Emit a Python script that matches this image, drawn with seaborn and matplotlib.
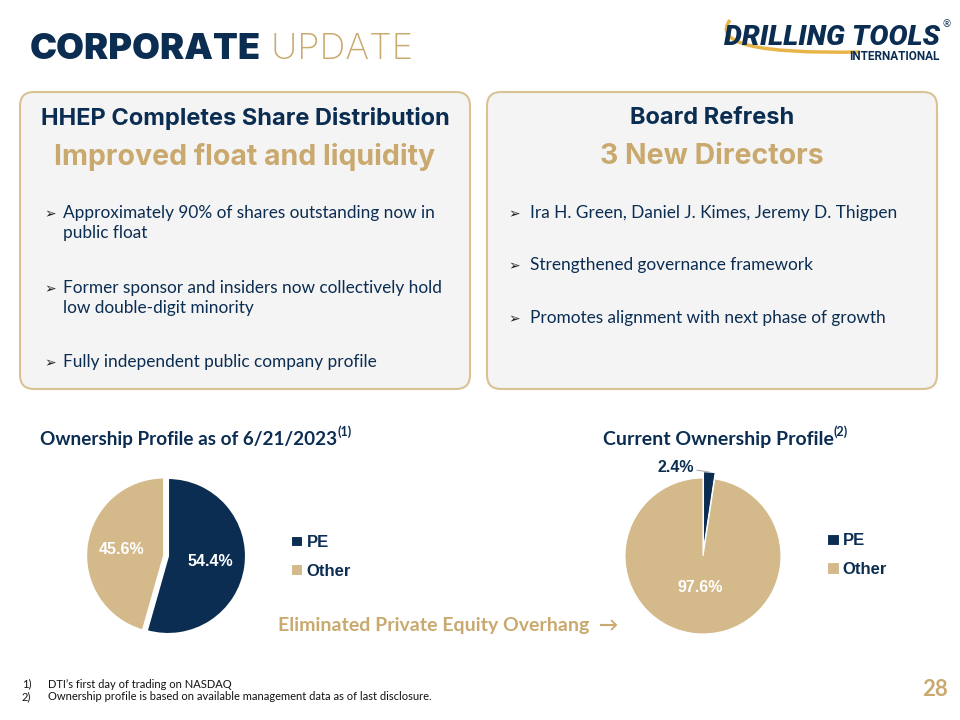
import matplotlib
matplotlib.use("Agg")
import matplotlib.pyplot as plt
import seaborn as sns
import numpy as np
from matplotlib.patches import FancyBboxPatch, PathPatch
from matplotlib.path import Path as MPath

# ---- data ----
owner_labels = ["PE", "Other"]
ownership_ipo = [54.4, 45.6]        # 6/21/2023
ownership_current = [2.4, 97.6]

left_title = "HHEP Completes Share Distribution"
left_sub = "Improved float and liquidity"
left_bullets = [
    "Approximately 90% of shares outstanding now in\npublic float",
    "Former sponsor and insiders now collectively hold\nlow double-digit minority",
    "Fully independent public company profile",
]
right_title = "Board Refresh"
right_sub = "3 New Directors"
right_bullets = [
    "Ira H. Green, Daniel J. Kimes, Jeremy D. Thigpen",
    "Strengthened governance framework",
    "Promotes alignment with next phase of growth",
]
footnotes = [
    ("1)", "DTI\u2019s first day of trading on NASDAQ"),
    ("2)", "Ownership profile is based on available management data as of last disclosure."),
]

NAVY = "#0b2d52"
TAN = "#d4b98a"
GOLD = "#c9a96e"
BOX_FILL = "#f4f4f4"
BOX_EDGE = "#d9c294"

sns.set_theme(style="white")
plt.rcParams["font.family"] = ["Lato", "DejaVu Sans"]
palette = sns.color_palette([NAVY, TAN])

fig = plt.figure(figsize=(9.6, 7.2), dpi=100)
bg = fig.add_axes([0, 0, 1, 1])
bg.set_xlim(0, 960)
bg.set_ylim(720, 0)
bg.axis("off")


def text_after(prev, s, **kw):
    """place a text right after another one"""
    fig.canvas.draw()
    bb = prev.get_window_extent()
    x0 = bg.transData.inverted().transform((bb.x1, bb.y0))[0]
    return bg.text(x0, prev.get_position()[1], s, **kw)


# ---- header ----
t = bg.text(30, 59, "CORPORATE", fontsize=26, fontweight=900, color=NAVY,
            family=["Inter", "DejaVu Sans"])
text_after(t, " UPDATE", fontsize=26, color=GOLD, fontweight="light",
           family=["Inter", "DejaVu Sans"])

# logo
swoosh = MPath([(730, 20), (704, 55), (860, 52)],
               [MPath.MOVETO, MPath.CURVE3, MPath.CURVE3])
bg.add_patch(PathPatch(swoosh, fc="none", ec="#e8b54a", lw=2.5))
bg.text(940, 45, "DRILLING TOOLS", fontsize=20.5, fontweight="black", style="italic",
        color=NAVY, ha="right", family=["Roboto", "DejaVu Sans"])
bg.text(947, 27, "\u00ae", fontsize=7, color=NAVY, ha="center")
bg.text(940, 60, "INTERNATIONAL", fontsize=8.5, fontweight="bold", color=NAVY,
        ha="right", family=["Roboto", "DejaVu Sans"])

# ---- boxes ----
for x0, x1, title, sub, bullets, ys, cx, ax_, tx in [
    (20, 470, left_title, left_sub, left_bullets, [214, 289, 363], 245, 44, 63),
    (487, 937, right_title, right_sub, right_bullets, [214, 266, 319], 712, 508, 530),
]:
    bg.add_patch(FancyBboxPatch((x0, 92), x1 - x0, 297,
                                boxstyle="round,pad=0,rounding_size=14",
                                fc=BOX_FILL, ec=BOX_EDGE, lw=1.5))
    bg.text(cx, 118, title, fontsize=17, fontweight="bold", color=NAVY,
            ha="center", va="center", family=["Inter", "DejaVu Sans"])
    bg.text(cx, 157, sub, fontsize=20.5, fontweight="bold", color=GOLD,
            ha="center", va="center", family=["Inter", "DejaVu Sans"])
    for y, b in zip(ys, bullets):
        bg.text(ax_, y, "\u27a2", fontsize=10, color="#222222", va="center",
                family=["DejaVu Sans"])
        bg.text(tx, y - 9, b, fontsize=12.4, color=NAVY, va="top",
                linespacing=1.3)

# ---- section titles ----
t = bg.text(40, 445, "Ownership Profile as of 6/21/2023", fontsize=13.6,
            fontweight="bold", color=NAVY)
text_after(t, "(1)", fontsize=9, fontweight="bold", color=NAVY).set_y(436)
t = bg.text(603, 445, "Current Ownership Profile", fontsize=14,
            fontweight="bold", color=NAVY)
text_after(t, "(2)", fontsize=9, fontweight="bold", color=NAVY).set_y(436)

# ---- pies ----
R_PX = 78
LIM = 1.3


def pie_axes(cx, cy):
    size = 2 * LIM * R_PX
    return fig.add_axes([(cx - size / 2) / 960, 1 - (cy + size / 2) / 720,
                         size / 960, size / 720])


pct_font = dict(fontsize=11.5, fontweight="bold", color="white",
                family=["Liberation Sans", "DejaVu Sans"])

ax1 = pie_axes(168, 556)
w1, _, a1 = ax1.pie(ownership_ipo, colors=palette, startangle=90, counterclock=False,
                    explode=[0, 0.05], autopct="%.1f%%", pctdistance=0.55,
                    wedgeprops=dict(edgecolor="white", linewidth=1.5),
                    textprops=pct_font)
ax1.set_xlim(-LIM, LIM)
ax1.set_ylim(-LIM, LIM)

ax2 = pie_axes(703, 556)
w2, _, a2 = ax2.pie(ownership_current, colors=palette, startangle=90, counterclock=False,
                    explode=[0.08, 0], autopct="%.1f%%", pctdistance=0.4,
                    wedgeprops=dict(edgecolor="white", linewidth=0.8),
                    textprops=pct_font)
ax2.set_xlim(-LIM, LIM)
ax2.set_ylim(-LIM, LIM)
# small PE slice label goes outside with a leader line
pe = w2[0]
ang = np.deg2rad((pe.theta1 + pe.theta2) / 2)
tip = (pe.center[0] + np.cos(ang) * pe.r, pe.center[1] + np.sin(ang) * pe.r)
lbl = a2[0].get_text()
a2[0].set_visible(False)
ax2.annotate(lbl, xy=tip, xytext=(-0.12, 1.14), ha="right", va="center",
             fontsize=11.5, fontweight="bold", color=NAVY,
             family=["Liberation Sans", "DejaVu Sans"],
             arrowprops=dict(arrowstyle="-", color="#b0b0b0", lw=0.8,
                             shrinkA=0, shrinkB=0))

leg_font = dict(size=12, weight="bold", family="Liberation Sans")
for ax, (lx, ly) in [(ax1, (276, 557)), (ax2, (812, 555))]:
    ax.legend(handles=ax.patches, labels=owner_labels, loc="center left",
              bbox_to_anchor=(lx, ly), bbox_transform=bg.transData,
              frameon=False, prop=leg_font, handlelength=0.7, handleheight=0.7,
              handletextpad=0.25, labelspacing=0.8, labelcolor=NAVY)

# ---- callout ----
bg.text(278, 626, "Eliminated Private Equity Overhang  \u2192", fontsize=14,
        fontweight="bold", color=GOLD, va="center")

# ---- footnotes ----
for i, (num, note) in enumerate(footnotes):
    y = 684 + i * 13
    bg.text(22, y, num, fontsize=8, color="#111111", va="center")
    bg.text(48, y, note, fontsize=8, color="#111111", va="center")
bg.text(948, 690, "28", fontsize=16, fontweight="bold", color=GOLD,
        ha="right", va="center")

fig.savefig("out.png", dpi=100, facecolor="white")
